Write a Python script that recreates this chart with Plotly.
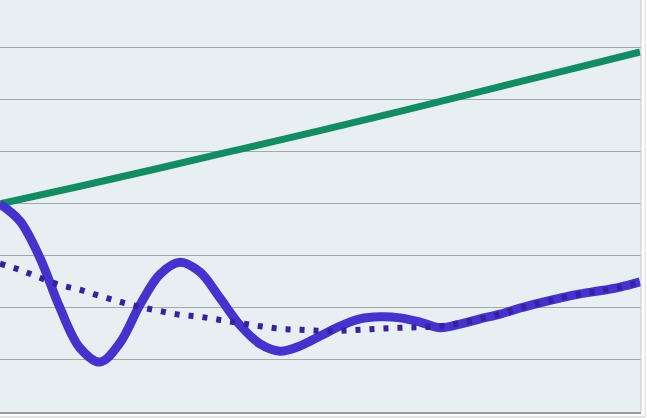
import plotly.graph_objects as go

# x positions (uniform steps)
x_vals = list(range(33))

growth_x = [0, 4, 8, 12, 16, 20, 24, 28, 32]
growth = [4.00, 4.34, 4.69, 5.05, 5.41, 5.78, 6.16, 6.54, 6.92]

response = [4.00, 3.67, 2.96, 2.00, 1.23, 0.96, 1.33, 2.06, 2.65, 2.88, 2.69,
            2.19, 1.67, 1.31, 1.17, 1.27, 1.46, 1.65, 1.79, 1.83, 1.81, 1.73,
            1.62, 1.69, 1.79, 1.88, 2.00, 2.10, 2.19, 2.27, 2.33, 2.40, 2.50]

trend = [2.85, 2.73, 2.58, 2.44, 2.35, 2.23, 2.12, 2.02, 1.94, 1.87, 1.83,
         1.77, 1.71, 1.65, 1.60, 1.58, 1.56, 1.56, 1.58, 1.60, 1.62, 1.63,
         1.65, 1.71, 1.79, 1.88, 2.00, 2.10, 2.19, 2.27, 2.33, 2.40, 2.50]

fig = go.Figure()
fig.add_trace(go.Scatter(x=growth_x, y=growth, mode="lines",
                         line=dict(color="#128C60", width=7, shape="spline"),
                         showlegend=False))
fig.add_trace(go.Scatter(x=x_vals, y=response, mode="lines",
                         line=dict(color="#4433CC", width=9, shape="spline"),
                         showlegend=False))
fig.add_trace(go.Scatter(x=x_vals, y=trend, mode="lines",
                         line=dict(color="#3A1F9E", width=6, shape="spline", dash="5px,9px"),
                         showlegend=False))

fig.update_layout(
    width=647, height=418,
    margin=dict(l=0, r=6, t=0, b=6),
    paper_bgcolor="white",
    plot_bgcolor="#E8EFF3",
    xaxis=dict(range=[0, 32.05], showgrid=False, zeroline=False,
               showticklabels=False, ticks="",
               showline=True, linecolor="#9A9A9A", linewidth=2),
    yaxis=dict(range=[0, 7.92], dtick=1, showgrid=True, gridcolor="#A8A8A8",
               gridwidth=1, zeroline=False, showticklabels=False, ticks="",
               showline=False),
    shapes=[
        dict(type="line", xref="paper", yref="paper", x0=1, x1=1, y0=0, y1=1,
             line=dict(color="#C8C8C8", width=1)),
        dict(type="line", xref="paper", yref="paper", x0=1.0065, x1=1.0065, y0=-0.012, y1=1,
             line=dict(color="#DADADA", width=1)),
        dict(type="line", xref="paper", yref="paper", x0=0, x1=1.0065, y0=-0.012, y1=-0.012,
             line=dict(color="#C8C8C8", width=1)),
    ],
)

fig.write_html("out.html",
               config={"displayModeBar": False},
               post_script="document.body.style.margin='0';document.body.style.padding='0';")
